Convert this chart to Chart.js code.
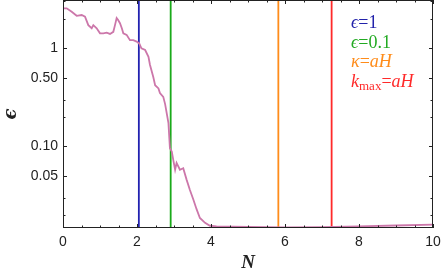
<!DOCTYPE html>
<html><head><meta charset="utf-8">
<script src="https://cdn.jsdelivr.net/npm/chart.js@4"></script>
<style>
html,body{margin:0;padding:0;background:#fff;}
#wrap{position:relative;width:443px;height:278px;}
#legend{position:absolute;left:351px;top:13px;font-family:"Liberation Serif","DejaVu Serif",serif;font-size:18px;line-height:19.5px;}
#legend div{white-space:nowrap;}
#legend i{font-style:italic;}
#legend sub{font-size:13px;vertical-align:-3px;line-height:0;}
</style></head><body>
<div id="wrap"><canvas id="c" width="443" height="278"></canvas>
<div id="legend">
<div style="color:#2222aa"><i>ϵ</i>=1</div>
<div style="color:#22aa22"><i>ϵ</i>=0.1</div>
<div style="color:#ff8c1a"><i>κ</i>=<i>aH</i></div>
<div style="color:#ff2a2a"><i>k</i><sub>max</sub>=<i>aH</i></div>
</div></div>
<script>
// Data
const nValues   = [0.0, 0.1, 0.235, 0.37, 0.505, 0.595, 0.684, 0.776, 0.82, 0.91, 1.0, 1.09, 1.18, 1.27, 1.36, 1.405, 1.45, 1.49, 1.54, 1.59, 1.63, 1.72, 1.81, 1.9, 1.99, 2.06, 2.12, 2.22, 2.31, 2.35, 2.44, 2.49, 2.58, 2.62, 2.71, 2.76, 2.85, 2.89, 2.94, 2.98, 3.03, 3.07, 3.16, 3.25, 3.34, 3.43, 3.52, 3.61, 3.7, 3.84, 3.97, 4.15, 5.0, 6.0, 7.0, 8.0, 9.0, 10.0];
const epsValues = [2.55, 2.55, 2.35, 2.14, 2.18, 2.10, 1.72, 1.60, 1.72, 1.60, 1.42, 1.42, 1.44, 1.40, 1.47, 1.72, 2.03, 1.94, 1.80, 1.60, 1.42, 1.37, 1.21, 1.21, 1.17, 1.12, 1.0, 0.96, 0.82, 0.68, 0.51, 0.42, 0.39, 0.35, 0.32, 0.27, 0.173, 0.096, 0.089, 0.073, 0.058, 0.068, 0.058, 0.060, 0.046, 0.036, 0.029, 0.023, 0.0187, 0.0167, 0.0156, 0.0154, 0.0152, 0.0150, 0.0151, 0.0154, 0.0157, 0.0160];
const markerN      = [2.05, 2.91, 5.82, 7.26];
const markerColors = ['#2222b0', '#1aaa1a', '#ff8c1a', '#ff2a2a'];
const xMajorTicks = [0, 2, 4, 6, 8, 10];
const xMinorTicks = [0.5,1,1.5,2.5,3,3.5,4.5,5,5.5,6.5,7,7.5,8.5,9,9.5];
const yMajorTicks = [0.05, 0.1, 0.5, 1];
const yMinorTicks = [0.02, 0.03, 0.2, 0.3, 2, 3];
const yTickLabels = {0.05:'0.05', 0.1:'0.10', 0.5:'0.50', 1:'1'};
const yMin = 0.0148, yMax = 3.1;

const curve = nValues.map((n,i)=>({x:n, y:epsValues[i]}));
const datasets = [{
  data: curve, borderColor:'#cc77aa', borderWidth:1.8, pointRadius:0, showLine:true, tension:0
}];
markerN.forEach((n,i)=>datasets.push({
  data:[{x:n,y:yMin},{x:n,y:yMax}], borderColor:markerColors[i], borderWidth:1.8, pointRadius:0, showLine:true
}));

const frameTicks = {
  id:'frameTicks',
  afterDraw(chart){
    const {ctx, chartArea:a, scales:{x, y}} = chart;
    ctx.save();
    ctx.strokeStyle='#222'; ctx.lineWidth=1;
    ctx.strokeRect(a.left+0.5, a.top+0.5, a.right-a.left-1, a.bottom-a.top-1);
    ctx.beginPath();
    const tx=(v,len)=>{const p=Math.round(x.getPixelForValue(v))+0.5;
      ctx.moveTo(p,a.bottom); ctx.lineTo(p,a.bottom-len);
      ctx.moveTo(p,a.top); ctx.lineTo(p,a.top+len);};
    const ty=(v,len)=>{const p=Math.round(y.getPixelForValue(v))+0.5;
      ctx.moveTo(a.left,p); ctx.lineTo(a.left+len,p);
      ctx.moveTo(a.right,p); ctx.lineTo(a.right-len,p);};
    xMajorTicks.forEach(v=>tx(v,4)); xMinorTicks.forEach(v=>tx(v,2.5));
    yMajorTicks.forEach(v=>ty(v,4)); yMinorTicks.forEach(v=>ty(v,2.5));
    ctx.stroke();
    ctx.restore();
  }
};

new Chart(document.getElementById('c'), {
  type:'scatter',
  data:{datasets},
  plugins:[frameTicks],
  options:{
    responsive:false, animation:false, devicePixelRatio:1,
    layout:{padding:{left:0,right:10,top:0,bottom:0}},
    plugins:{legend:{display:false}, tooltip:{enabled:false}},
    scales:{
      x:{type:'linear', min:0, max:10,
        afterBuildTicks(s){ s.ticks = xMajorTicks.map(v=>({value:v})); },
        afterFit(s){ s.height = 50; s.paddingLeft = 0; s.paddingRight = 0; },
        grid:{display:false, drawTicks:false}, border:{display:false},
        ticks:{padding:6, color:'#222', font:{family:'"Liberation Sans",Arial,sans-serif', size:14}, maxRotation:0,
          callback:v=>String(v)},
        title:{display:true, text:'N', color:'#222', padding:{top:0,bottom:4},
          font:{family:'"Liberation Serif","DejaVu Serif",serif', size:19, style:'italic', weight:'bold'}}
      },
      y:{type:'logarithmic', min:yMin, max:yMax,
        afterBuildTicks(s){ s.ticks = yMajorTicks.map(v=>({value:v})); },
        afterFit(s){ s.width = 63; s.paddingTop = 0; s.paddingBottom = 0; },
        grid:{display:false, drawTicks:false}, border:{display:false},
        ticks:{padding:5, color:'#222', font:{family:'"Liberation Sans",Arial,sans-serif', size:14},
          callback:v=>yTickLabels[v] ?? ''},
        title:{display:true, text:'ϵ', color:'#222', padding:{top:1,bottom:1},
          font:{family:'"DejaVu Serif",serif', size:18, style:'italic', weight:'bold'}}
      }
    }
  }
});
</script></body></html>
